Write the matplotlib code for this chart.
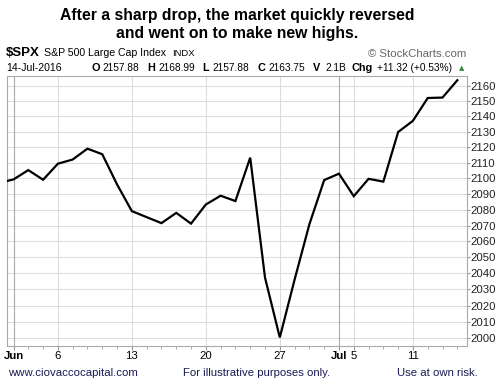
import matplotlib
matplotlib.use("Agg")
import matplotlib.pyplot as plt
from matplotlib.ticker import FixedLocator, NullLocator, FixedFormatter

plt.rcParams['font.family'] = ['Liberation Sans', 'DejaVu Sans']

# Trading days May 31 .. Jul 14, 2016 (index -1 = May 31)
dates = ["May31", "Jun1", "Jun2", "Jun3", "Jun6", "Jun7", "Jun8", "Jun9", "Jun10",
         "Jun13", "Jun14", "Jun15", "Jun16", "Jun17", "Jun20", "Jun21", "Jun22",
         "Jun23", "Jun24", "Jun27", "Jun28", "Jun29", "Jun30", "Jul1", "Jul5",
         "Jul6", "Jul7", "Jul8", "Jul11", "Jul12", "Jul13", "Jul14"]
closes = [2097.0, 2099.3, 2105.3, 2099.1, 2109.4, 2112.1, 2119.1, 2115.5, 2096.1,
          2079.1, 2075.3, 2071.5, 2078.0, 2071.2, 2083.3, 2088.9, 2085.5,
          2113.3, 2037.4, 2000.5, 2036.1, 2070.8, 2098.9, 2103.0, 2088.6,
          2099.7, 2097.9, 2129.9, 2137.2, 2152.1, 2152.4, 2163.8]
y_ticks = list(range(2000, 2161, 10))
x_tick_pos = [0, 3, 8, 13, 18, 22, 23, 27]
x_tick_labels = ["Jun", "6", "13", "20", "27", "Jul", "5", "11"]
month_pos = [0, 22]

W, H = 496, 389
fig = plt.figure(figsize=(W / 100, H / 100), dpi=100)
L, R, T, B = 6.7, 466.5, 76, 346
ax = fig.add_axes([L / W, 1 - B / H, (R - L) / W, (B - T) / H])

xs = list(range(-1, len(dates) - 1))
ax.plot(xs, closes, color="black", lw=1.6, solid_joinstyle="miter", zorder=3)

ax.set_yscale("log")
ax.set_ylim(1995.3, 2166.6)
ax.set_xlim(-0.46, 30.62)

ax.yaxis.set_major_locator(FixedLocator(y_ticks))
ax.yaxis.set_major_formatter(FixedFormatter([str(v) for v in y_ticks]))
ax.yaxis.set_minor_locator(NullLocator())
ax.yaxis.tick_right()
ax.tick_params(axis="y", which="major", length=2.5, width=0.8, color="#999999",
               labelsize=8.2, pad=0.2, labelcolor="#222222")

ax.set_xticks(x_tick_pos)
ax.set_xticklabels(x_tick_labels)
ax.set_xticks(range(0, 31), minor=True)
ax.tick_params(axis="x", which="major", length=3, width=0.8, color="#999999",
               labelsize=8.2, pad=0.8, labelcolor="black")
ax.tick_params(axis="x", which="minor", length=2, width=0.6, color="#999999")
for lbl in ax.get_xticklabels():
    if lbl.get_text() in ("Jun", "Jul"):
        lbl.set_fontweight("bold")

ax.grid(False)
for v in y_ticks:
    ax.axhline(v, color="#dddddd", lw=0.8, zorder=1)
for p in x_tick_pos:
    ax.axvline(p, color="#aaaaaa" if p in month_pos else "#dddddd", lw=0.8, zorder=1)

for s in ax.spines.values():
    s.set_color("#aaaaaa")
    s.set_linewidth(0.8)


def ftext(x, y, s, **kw):
    fig.text(x / W, 1 - y / H, s, **kw)


ftext(237.5, 15.5, "After a sharp drop, the market quickly reversed",
      ha="center", va="center", fontsize=11.35, fontweight="bold")
ftext(237.5, 33.5, "and went on to make new highs.",
      ha="center", va="center", fontsize=11.35, fontweight="bold")

ftext(5.5, 53.5, "$SPX", ha="left", va="center", fontsize=9.5, fontweight="bold")
ftext(44, 53.5, "S&P 500 Large Cap Index", ha="left", va="center", fontsize=7.6)
ftext(172, 54, "INDX", ha="left", va="center", fontsize=6.8)
ftext(466, 54, "\u00a9 StockCharts.com", ha="right", va="center", fontsize=8.2,
      color="#666666")

y2 = 68
ftext(6.5, y2, "14-Jul-2016", ha="left", va="center", fontsize=7.6)
parts = [(92, "O", True), (102, "2157.88", False), (147, "H", True), (158, "2168.99", False),
         (202, "L", True), (212, "2157.88", False), (258, "C", True), (268, "2163.75", False),
         (313, "V", True), (325, "2.1B", False), (352, "Chg", True),
         (377, "+11.32 (+0.53%)", False)]
for x, s, b in parts:
    ftext(x, y2, s, ha="left", va="center", fontsize=7.8 if b else 7.3,
          fontweight="bold" if b else "normal")
ftext(462, y2, "\u25b2", ha="center", va="center", fontsize=5, color="#2e8b3d",
      family=["DejaVu Sans"])

ftext(8, 372.5, "www.ciovaccocapital.com", ha="left", va="center", fontsize=8.2,
      color="#1a1a55")
ftext(183, 372.5, "For illustrative purposes only.", ha="left", va="center", fontsize=8.2,
      color="#1a1a55")
ftext(397, 372.5, "Use at own risk.", ha="left", va="center", fontsize=8.2,
      color="#1a1a55")

fig.savefig("out.png", dpi=100)
